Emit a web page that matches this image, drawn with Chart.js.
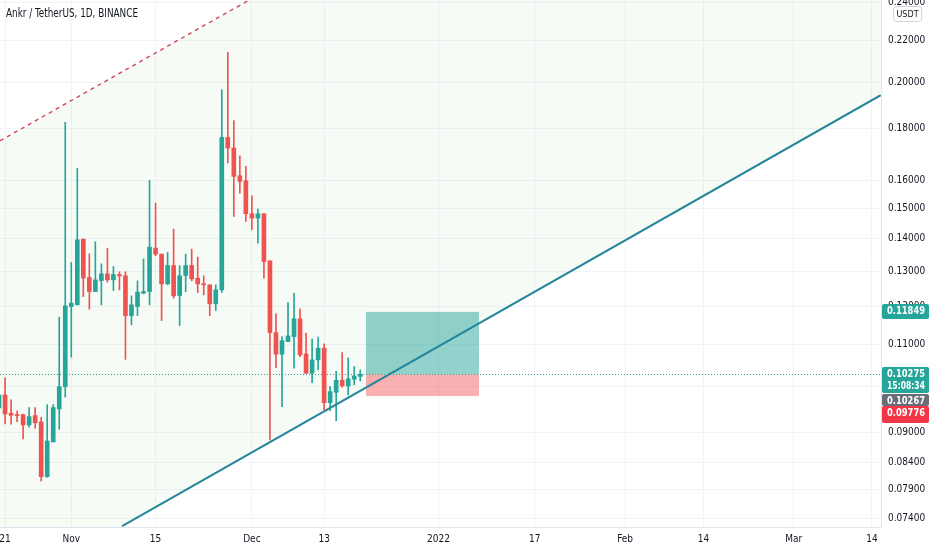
<!DOCTYPE html>
<html>
<head>
<meta charset="utf-8">
<script src="https://cdn.jsdelivr.net/npm/chart.js@4.4.0/dist/chart.umd.min.js"></script>
<style>
    html, body { margin: 0; padding: 0; background: #ffffff; }
    #wrap { width: 932px; height: 550px; position: relative; }
</style>
</head>
<body>
<div id="wrap"><canvas id="chart"></canvas></div>
<script>
// ===== data (day 0 = 1 Nov 2021) =====
const days = [-12, -11, -10, -9, -8, -7, -6, -5, -4, -3, -2, -1,
    0, 1, 2, 3, 4, 5, 6, 7, 8, 9, 10, 11, 12, 13, 14, 15, 16, 17, 18, 19,
    20, 21, 22, 23, 24, 25, 26, 27, 28, 29, 30, 31, 32, 33, 34, 35, 36, 37,
    38, 39, 40, 41, 42, 43, 44, 45, 46, 47, 48];

const opens = [0.09515, 0.09801, 0.09400, 0.09371, 0.09371, 0.09152, 0.09349, 0.09215, 0.08133, 0.08804, 0.09493, 0.09989,
    0.11993, 0.12040, 0.13990, 0.12815, 0.12411, 0.12727, 0.12923, 0.12747, 0.12903, 0.12865, 0.11749, 0.11993,
    0.12366, 0.12411, 0.13706, 0.13519, 0.12632, 0.13171, 0.12299, 0.12874, 0.13171, 0.12797, 0.12632, 0.12603,
    0.12067, 0.12459, 0.17647, 0.17224, 0.16168, 0.15984, 0.14824, 0.14678, 0.14824, 0.13313, 0.11301, 0.10757,
    0.11071, 0.11198, 0.11661, 0.10764, 0.10300, 0.10618, 0.10905, 0.09630, 0.09862, 0.10137, 0.10006, 0.10160, 0.10225];

const highs = [0.09914, 0.10190, 0.09690, 0.09450, 0.09385, 0.09522, 0.09522, 0.09315, 0.09587, 0.09587, 0.11706, 0.18262,
    0.13262, 0.16440, 0.13990, 0.13528, 0.13904, 0.13222, 0.13693, 0.13141, 0.12983, 0.12983, 0.12290, 0.12718,
    0.13374, 0.15995, 0.15190, 0.13519, 0.13569, 0.14313, 0.13171, 0.13519, 0.13674, 0.13426, 0.12865, 0.12603,
    0.12603, 0.19679, 0.21430, 0.18333, 0.16924, 0.16515, 0.15445, 0.14984, 0.14824, 0.13313, 0.11795, 0.11198,
    0.12103, 0.12366, 0.11930, 0.11286, 0.11133, 0.11183, 0.11014, 0.09989, 0.10347, 0.10797, 0.10666, 0.10456, 0.10378];

const lows = [0.09428, 0.09173, 0.09167, 0.09222, 0.08864, 0.09104, 0.09084, 0.08053, 0.08121, 0.08804, 0.09063, 0.09750,
    0.10683, 0.12040, 0.12270, 0.11922, 0.12411, 0.12040, 0.12681, 0.12440, 0.12459, 0.10630, 0.11502, 0.11749,
    0.12346, 0.12040, 0.13467, 0.11616, 0.12603, 0.12226, 0.11483, 0.12411, 0.12718, 0.12383, 0.12317, 0.11749,
    0.11884, 0.12383, 0.16644, 0.14732, 0.15541, 0.14565, 0.14292, 0.13863, 0.12797, 0.08844, 0.10433, 0.09543,
    0.11071, 0.10418, 0.10698, 0.10300, 0.10081, 0.10378, 0.09471, 0.09456, 0.09243, 0.09976, 0.09801, 0.10028, 0.10120];

const closes = [0.09801, 0.09385, 0.09357, 0.09349, 0.09152, 0.09328, 0.09201, 0.08133, 0.08824, 0.09522, 0.09989, 0.12012,
    0.12087, 0.13968, 0.12797, 0.12411, 0.12747, 0.12923, 0.12747, 0.12903, 0.12865, 0.11749, 0.12040, 0.12394,
    0.12411, 0.13737, 0.13519, 0.12632, 0.13171, 0.12290, 0.12865, 0.13171, 0.12777, 0.12632, 0.12603, 0.12067,
    0.12459, 0.17647, 0.17224, 0.16142, 0.15959, 0.14824, 0.14678, 0.14824, 0.13292, 0.11301, 0.10757, 0.11097,
    0.11216, 0.11661, 0.10740, 0.10300, 0.10618, 0.10905, 0.09630, 0.09876, 0.10137, 0.10006, 0.10167, 0.10237, 0.10275];

// x-axis ticks
const tickDays = [-11, 0, 14, 30, 42, 61, 77, 92, 105, 120, 133];
const tickLabels = ['21', 'Nov', '15', 'Dec', '13', '2022', '17', 'Feb', '14', 'Mar', '14'];

// price axis ticks (log scale)
const priceTicks = [0.074, 0.079, 0.084, 0.09, 0.10, 0.11, 0.12, 0.13, 0.14, 0.15, 0.16, 0.18, 0.20, 0.22, 0.24];

// drawings: channel lines as [day, price]
const trendDays = [8.44, 134.45];
const trendPrices = [0.07266, 0.1943];
const channelDays = [-11.84, 29.35];
const channelPrices = [0.1751, 0.2411];

// long position tool
const positionDays = [48.95, 67.7];
const entryPrice = 0.10275;
const targetPrice = 0.11849;
const stopPrice = 0.09776;
const markPrice = 0.10267;
const countdown = '15:08:34';

const UP = '#26a69a';
const DOWN = '#ef5350';
const FONT = '"Liberation Sans Narrow", "DejaVu Sans Condensed", Roboto, sans-serif';

const candleColors = closes.map((c, i) => c >= opens[i] ? UP : DOWN);
const fmt = v => v.toFixed(5);

function linePoints(ds, ps) {
    return ds.map((d, i) => ({ x: d, y: ps[i] }));
}

// overlay: channel background, position box, last price line, side labels
const overlay = {
    id: 'overlay',
    beforeDatasetsDraw(chart) {
        const { ctx, chartArea: a, scales: { x, y } } = chart;
        const at = (ds, ps, px) => {
            const x0 = x.getPixelForValue(ds[0]), y0 = y.getPixelForValue(ps[0]);
            const x1 = x.getPixelForValue(ds[1]), y1 = y.getPixelForValue(ps[1]);
            return y0 + (y1 - y0) * (px - x0) / (x1 - x0);
        };
        ctx.save();
        ctx.beginPath();
        ctx.rect(a.left, a.top, a.right - a.left, a.bottom - a.top);
        ctx.clip();

        ctx.fillStyle = 'rgba(76, 175, 80, 0.05)';
        ctx.beginPath();
        ctx.moveTo(a.left, at(channelDays, channelPrices, a.left));
        ctx.lineTo(a.right, at(channelDays, channelPrices, a.right));
        ctx.lineTo(a.right, at(trendDays, trendPrices, a.right));
        ctx.lineTo(a.left, at(trendDays, trendPrices, a.left));
        ctx.closePath();
        ctx.fill();

        const bx0 = Math.round(x.getPixelForValue(positionDays[0]));
        const bx1 = Math.round(x.getPixelForValue(positionDays[1]));
        const yT = y.getPixelForValue(targetPrice);
        const yE = y.getPixelForValue(entryPrice);
        const yS = y.getPixelForValue(stopPrice);
        ctx.fillStyle = 'rgba(38, 166, 154, 0.5)';
        ctx.fillRect(bx0, yT, bx1 - bx0, yE - yT);
        ctx.fillStyle = 'rgba(239, 83, 80, 0.45)';
        ctx.fillRect(bx0, yE, bx1 - bx0, yS - yE);

        ctx.strokeStyle = UP;
        ctx.lineWidth = 1;
        ctx.setLineDash([1, 2]);
        ctx.beginPath();
        ctx.moveTo(a.left, Math.round(yE) + 0.5);
        ctx.lineTo(a.right, Math.round(yE) + 0.5);
        ctx.stroke();
        ctx.restore();
    },
    afterDraw(chart) {
        const { ctx, chartArea: a, scales: { y } } = chart;
        ctx.save();

        // title
        ctx.fillStyle = '#131722';
        ctx.font = '500 12px ' + FONT;
        ctx.textBaseline = 'middle';
        ctx.textAlign = 'left';
        ctx.fillText('Ankr / TetherUS, 1D, BINANCE', 6, 14, 132);

        // currency badge
        ctx.fillStyle = '#ffffff';
        ctx.strokeStyle = '#d1d4dc';
        ctx.beginPath();
        ctx.roundRect(893.5, 6.5, 28, 15, 3);
        ctx.fill();
        ctx.stroke();
        ctx.fillStyle = '#131722';
        ctx.font = '9px ' + FONT;
        ctx.textAlign = 'center';
        ctx.fillText('USDT', 907.5, 14.5, 24);

        const tag = (top, h, bg, lines) => {
            ctx.fillStyle = bg;
            ctx.beginPath();
            ctx.roundRect(a.right + 1, top, 47, h, 2);
            ctx.fill();
            ctx.fillStyle = '#ffffff';
            ctx.font = 'bold 10px ' + FONT;
            ctx.textAlign = 'left';
            lines.forEach((t, i) => ctx.fillText(t, a.right + 6, top + 7.5 + i * 12, 38));
        };
        const yT = Math.round(y.getPixelForValue(targetPrice));
        const yE = Math.round(y.getPixelForValue(entryPrice));
        tag(yT - 8, 15, UP, [fmt(targetPrice)]);
        tag(yE + 32, 17, '#f23645', [fmt(stopPrice)]);
        tag(yE + 20, 12, '#6a6d78', [fmt(markPrice)]);
        tag(yE - 7, 26, UP, [fmt(entryPrice), countdown]);
        ctx.restore();
    }
};

new Chart(document.getElementById('chart'), {
    type: 'bar',
    data: {
        datasets: [
            {
                type: 'line',
                data: linePoints(trendDays, trendPrices),
                borderColor: '#24859b',
                borderWidth: 2,
                pointRadius: 0
            },
            {
                type: 'line',
                data: linePoints(channelDays, channelPrices),
                borderColor: '#d2455f',
                borderWidth: 1.4,
                borderDash: [4, 4],
                pointRadius: 0
            },
            {
                label: 'body',
                data: days.map((d, i) => ({ x: d, y: [Math.min(opens[i], closes[i]), Math.max(opens[i], closes[i])] })),
                backgroundColor: candleColors,
                barThickness: 4,
                minBarLength: 1,
                grouped: false
            },
            {
                label: 'wick',
                data: days.map((d, i) => ({ x: d, y: [lows[i], highs[i]] })),
                backgroundColor: candleColors,
                barThickness: 1,
                minBarLength: 1,
                grouped: false
            }
        ]
    },
    options: {
        responsive: true,
        maintainAspectRatio: false,
        animation: false,
        layout: { padding: 0 },
        plugins: {
            legend: { display: false },
            tooltip: { enabled: false }
        },
        scales: {
            x: {
                type: 'linear',
                offset: false,
                min: -11.84,
                max: 134.5,
                afterBuildTicks: s => { s.ticks = tickDays.map(v => ({ value: v })); },
                afterFit: s => { s.height = 23; s.paddingLeft = 0; s.paddingRight = 0; },
                grid: { color: '#f0f3fa', drawTicks: false, offset: false },
                border: { color: '#e0e3eb' },
                ticks: {
                    autoSkip: false,
                    maxRotation: 0,
                    padding: 6,
                    color: '#131722',
                    font: { family: FONT, size: 10 },
                    callback: v => tickLabels[tickDays.indexOf(v)]
                }
            },
            y: {
                type: 'logarithmic',
                position: 'right',
                min: 0.0725,
                max: 0.2415,
                afterBuildTicks: s => { s.ticks = priceTicks.map(v => ({ value: v })); },
                afterFit: s => { s.width = 51; s.paddingTop = 0; s.paddingBottom = 0; },
                grid: { color: '#f0f3fa', drawTicks: false },
                border: { color: '#e0e3eb' },
                ticks: {
                    padding: 7,
                    color: '#131722',
                    font: { family: FONT, size: 10 },
                    callback: v => fmt(v)
                }
            }
        }
    },
    plugins: [overlay]
});
</script>
</body>
</html>
